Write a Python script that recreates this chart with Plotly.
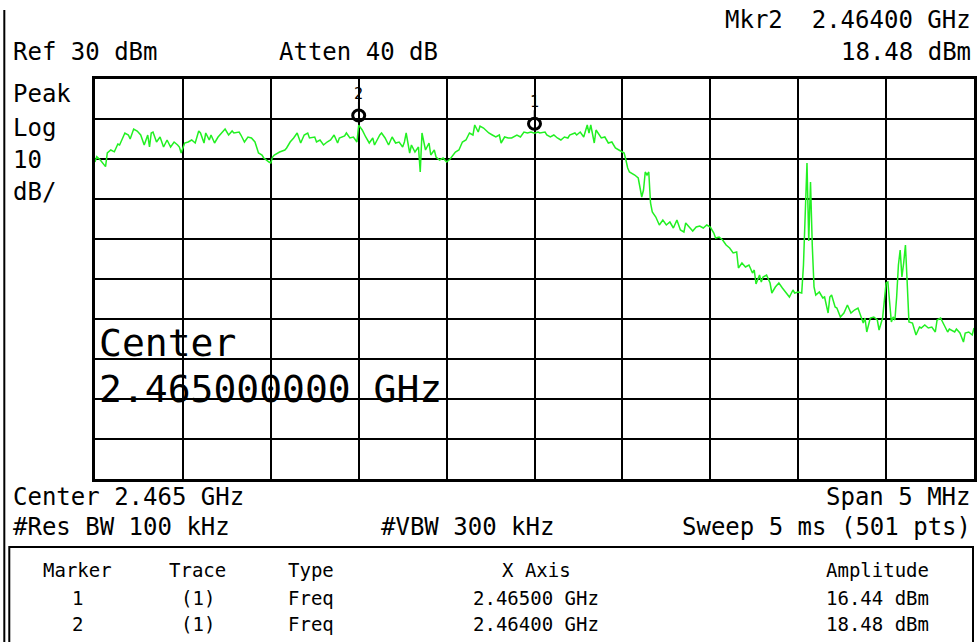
import plotly.graph_objects as go

# ---------------- data ----------------
START_MHZ = 2462.5          # left edge of the sweep (center 2465 MHz, span 5 MHz)
SPAN_MHZ = 5.0
REF_DBM = 30.0
DB_PER_DIV = 10.0

# trace: frequency offset from START (MHz) and amplitude (dBm)
freq_off_mhz = [
    0.00, 0.01, 0.03, 0.06, 0.07, 0.09, 0.11, 0.13, 0.14, 0.17,
    0.19, 0.20, 0.22, 0.24, 0.26, 0.28, 0.30, 0.31, 0.32, 0.33,
    0.35, 0.37, 0.39, 0.41, 0.43, 0.45, 0.47, 0.48, 0.49, 0.51,
    0.53, 0.55, 0.57, 0.59, 0.60, 0.62, 0.63, 0.65, 0.66, 0.68,
    0.70, 0.72, 0.74, 0.76, 0.78, 0.79, 0.82, 0.83, 0.85, 0.87,
    0.89, 0.91, 0.93, 0.95, 0.96, 0.99, 1.00,
    1.01, 1.02, 1.05, 1.08, 1.09, 1.11, 1.13, 1.15, 1.17, 1.19,
    1.21, 1.22, 1.25, 1.26, 1.28, 1.30, 1.32, 1.34, 1.36, 1.38,
    1.39, 1.42, 1.43, 1.45, 1.47, 1.49, 1.50, 1.52, 1.54, 1.56,
    1.58, 1.59, 1.62, 1.63, 1.65, 1.67, 1.69, 1.71, 1.73, 1.75,
    1.76, 1.77, 1.79, 1.80, 1.82, 1.84, 1.85, 1.86, 1.88, 1.90,
    1.91, 1.93, 1.94, 1.96, 1.98, 2.00,
    2.02, 2.05, 2.07, 2.09, 2.11, 2.13, 2.15, 2.16, 2.18, 2.19,
    2.21, 2.22, 2.24, 2.26, 2.28, 2.30, 2.31, 2.33, 2.35, 2.37,
    2.40, 2.42, 2.44, 2.46, 2.48, 2.50, 2.52, 2.53, 2.56, 2.57,
    2.59, 2.61, 2.63, 2.65, 2.67, 2.69, 2.70, 2.73, 2.74, 2.76,
    2.78, 2.80, 2.81, 2.82, 2.84, 2.85, 2.87, 2.88, 2.90, 2.92,
    2.94, 2.96, 2.98, 3.01,
    3.02, 3.03, 3.04, 3.07, 3.09, 3.11, 3.12, 3.13, 3.14, 3.15,
    3.16, 3.17, 3.19, 3.21, 3.23, 3.25, 3.27, 3.29, 3.31, 3.33,
    3.35, 3.36, 3.38, 3.40, 3.42, 3.44, 3.46, 3.48, 3.50, 3.52,
    3.53, 3.55, 3.57, 3.59, 3.61, 3.63, 3.65, 3.66, 3.68, 3.70,
    3.72, 3.74, 3.75, 3.76, 3.78, 3.79, 3.80, 3.82, 3.84, 3.85,
    3.87, 3.89, 3.91, 3.93, 3.95, 3.97, 3.98, 4.00, 4.02, 4.03,
    4.04, 4.05, 4.06, 4.07, 4.08, 4.09, 4.10, 4.12, 4.14, 4.15,
    4.17, 4.18, 4.19, 4.21, 4.22, 4.24, 4.26, 4.28, 4.30, 4.32,
    4.34, 4.35, 4.37, 4.38, 4.39, 4.41, 4.43, 4.45, 4.46, 4.48,
    4.49, 4.50, 4.51, 4.52, 4.53, 4.54, 4.55, 4.56, 4.57, 4.58,
    4.59, 4.60, 4.61, 4.62, 4.63, 4.65, 4.67, 4.69, 4.70, 4.72,
    4.74, 4.76, 4.78, 4.79, 4.81, 4.83, 4.85, 4.86, 4.89, 4.90,
    4.92, 4.94, 4.95, 4.97, 4.99, 5.00,
]
amp_dbm = [
    9.25, 10.6, 9.75, 8.1, 11.5, 12.25, 11.8, 13.75, 13.5, 16.5,
    16.0, 15.0, 17.5, 17.0, 16.0, 13.5, 16.0, 13.0, 16.5, 16.75,
    14.25, 15.5, 13.0, 14.75, 13.0, 14.25, 13.5, 13.0, 11.5, 14.0,
    14.25, 14.75, 14.0, 17.0, 16.5, 14.0, 16.5, 14.75, 16.0, 14.0,
    15.5, 16.5, 17.5, 16.0, 17.0, 16.5, 16.75, 16.0, 14.25, 15.5,
    15.25, 14.25, 11.5, 11.0, 10.25, 9.25, 9.0,
    10.5, 11.0, 11.75, 12.25, 12.75, 14.25, 15.25, 16.5, 14.0, 16.0,
    16.5, 15.25, 15.5, 14.25, 14.75, 13.5, 14.25, 14.75, 16.0, 14.0,
    15.25, 15.75, 16.5, 15.25, 15.5, 14.25, 18.48, 17.25, 15.5, 14.0,
    15.25, 13.5, 16.0, 16.5, 15.25, 13.5, 15.5, 14.0, 14.25, 13.0,
    14.25, 16.5, 11.5, 13.5, 11.75, 13.0, 6.75, 16.5, 12.25, 14.0,
    11.0, 12.25, 10.5, 9.75, 10.25, 9.25,
    10.0, 11.75, 12.25, 14.25, 14.75, 16.5, 16.0, 18.5, 16.75, 18.25,
    17.75, 17.25, 16.5, 16.0, 15.5, 16.0, 14.0, 15.5, 15.25, 15.25,
    16.0, 15.5, 16.75, 16.5, 16.75, 16.44, 16.75, 16.5, 16.75, 16.0,
    15.5, 16.0, 15.25, 14.75, 15.5, 15.25, 16.0, 16.5, 16.0, 16.75,
    15.5, 18.5, 16.5, 18.5, 14.0, 17.25, 16.0, 15.25, 15.5, 14.0,
    14.25, 12.75, 12.25, 11.5,
    9.75, 7.75, 6.75, 6.0, 5.25, 0.5, 2.25, 6.75, 6.0, 6.75,
    -1.0, -3.25, -4.5, -6.5, -5.25, -6.5, -5.75, -7.25, -5.25, -7.75,
    -8.25, -6.0, -7.0, -8.0, -7.0, -6.75, -7.25, -6.5, -7.0, -8.5,
    -9.75, -9.5, -10.25, -11.5, -12.25, -13.5, -13.25, -17.25, -16.0, -17.0,
    -16.5, -18.5, -17.75, -21.25, -19.0, -20.75, -19.5, -19.0, -21.0, -23.5,
    -22.0, -21.0, -22.25, -23.5, -24.5, -22.75, -23.5, -23.25, -23.5, -16.5,
    -1.0, 9.0, -10.5, 4.25, -11.5, -22.0, -24.0, -23.25, -24.75, -24.5,
    -28.5, -24.5, -24.0, -27.0, -27.25, -29.5, -28.5, -26.5, -28.5, -27.75,
    -27.25, -28.5, -31.0, -29.75, -33.25, -29.75, -29.5, -30.25, -32.75, -29.75,
    -26.0, -21.0, -20.75, -25.25, -30.75, -29.5, -30.25, -24.5, -16.5, -12.75,
    -19.5, -16.0, -11.5, -21.0, -30.75, -31.0, -34.0, -32.0, -32.25, -31.5,
    -32.25, -32.0, -33.25, -30.25, -29.75, -31.5, -33.25, -32.5, -33.25, -32.5,
    -33.5, -35.75, -33.5, -33.25, -34.0, -32.25,
]

# markers
marker_ids = ["1", "2"]
marker_freq_mhz = [2465.00, 2464.00]
marker_amp_dbm = [16.44, 18.48]
marker_freq_text = ["2.46500 GHz", "2.46400 GHz"]
marker_amp_text = ["16.44 dBm", "18.48 dBm"]

# table
table_headers = ["Marker", "Trace", "Type", "X Axis", "Amplitude"]
table_trace = ["(1)", "(1)"]
table_type = ["Freq", "Freq"]

freq_mhz = [START_MHZ + f for f in freq_off_mhz]

# ---------------- layout helpers (pixel -> paper) ----------------
W, H = 979, 642
L, R, T, B = 95, 977, 79, 479


def px(x):
    return (x - L) / (R - L)


def py(y):
    return (B - y) / (B - T)


MONO = "DejaVu Sans Mono"
GREEN = "#22f022"

fig = go.Figure()
fig.add_trace(go.Scatter(
    x=freq_mhz, y=amp_dbm, mode="lines",
    line=dict(color=GREEN, width=1.5),
    hoverinfo="skip", showlegend=False,
))

annotations = []


def txt(s, x, y, anchor="left", size=24):
    annotations.append(dict(
        text=s, x=px(x), y=py(y), xref="paper", yref="paper",
        xanchor=anchor, yanchor="middle", showarrow=False,
        font=dict(family=MONO, size=size, color="black"),
    ))


# header texts
txt("Mkr2  " + marker_freq_text[1], 976, 20, "right")
txt(marker_amp_text[1], 976, 52, "right")
txt("Ref 30 dBm", 11, 52)
txt("Atten 40 dB", 278, 52)
txt("Peak", 11, 94)
txt("Log", 11, 128)
txt("10", 11, 160)
txt("dB/", 11, 192)
# big center label
txt("Center", 97, 343, size=38)
txt("2.465000000 GHz", 97, 389, size=38)
# footer
txt("Center 2.465 GHz", 11, 497)
txt("Span 5 MHz", 976, 497, "right")
txt("#Res BW 100 kHz", 11, 527)
txt("#VBW 300 kHz", 380, 527)
txt("Sweep 5 ms (501 pts)", 976, 527, "right")

# table
col_x = [77, 198, 312, 538, 880]
for h, cx in zip(table_headers, col_x):
    txt(h, cx, 570, "center", 19)
row_y = [598, 624]
for i in range(2):
    vals = [marker_ids[i], table_trace[i], table_type[i],
            marker_freq_text[i], marker_amp_text[i]]
    for v, cx in zip(vals, col_x):
        txt(v, cx, row_y[i], "center", 19)

# marker labels above the trace
for mid, mf, ma in zip(marker_ids, marker_freq_mhz, marker_amp_dbm):
    annotations.append(dict(
        text=mid, x=mf, y=ma, xref="x", yref="y", showarrow=False,
        yshift=31, font=dict(family=MONO, size=15, color="black"),
    ))

shapes = []
for mf, ma in zip(marker_freq_mhz, marker_amp_dbm):
    shapes.append(dict(
        type="circle", xref="x", yref="y", xsizemode="pixel", ysizemode="pixel",
        xanchor=mf, yanchor=ma, x0=-6, x1=6, y0=4, y1=15,
        line=dict(color="black", width=3),
    ))
    shapes.append(dict(
        type="line", xref="x", yref="y", xsizemode="pixel", ysizemode="pixel",
        xanchor=mf, yanchor=ma, x0=0, x1=0, y0=15, y1=23,
        line=dict(color="black", width=1.5),
    ))

# left frame line and table box
shapes.append(dict(type="line", xref="paper", yref="paper",
                   x0=px(4), x1=px(4), y0=py(10), y1=py(645),
                   line=dict(color="black", width=2)))
shapes.append(dict(type="rect", xref="paper", yref="paper",
                   x0=px(9), x1=px(976), y0=py(547), y1=py(650),
                   line=dict(color="black", width=2)))

fig.update_layout(
    width=W, height=H,
    margin=dict(l=L, r=W - R, t=T, b=H - B, pad=0),
    paper_bgcolor="white", plot_bgcolor="white",
    showlegend=False,
    annotations=annotations, shapes=shapes,
    xaxis=dict(range=[START_MHZ, START_MHZ + SPAN_MHZ], dtick=SPAN_MHZ / 10,
               tick0=START_MHZ, showgrid=True, gridcolor="black", gridwidth=2,
               showticklabels=False, ticks="", zeroline=False,
               showline=True, linecolor="black", linewidth=3, mirror=True,
               fixedrange=True),
    yaxis=dict(range=[REF_DBM - 10 * DB_PER_DIV, REF_DBM], dtick=DB_PER_DIV,
               tick0=REF_DBM, showgrid=True, gridcolor="black", gridwidth=2,
               showticklabels=False, ticks="", zeroline=False,
               showline=True, linecolor="black", linewidth=3, mirror=True,
               fixedrange=True),
)

fig.write_html(
    "out.html",
    config={"displayModeBar": False},
    post_script="document.body.style.margin='0';document.body.style.padding='0';",
)
